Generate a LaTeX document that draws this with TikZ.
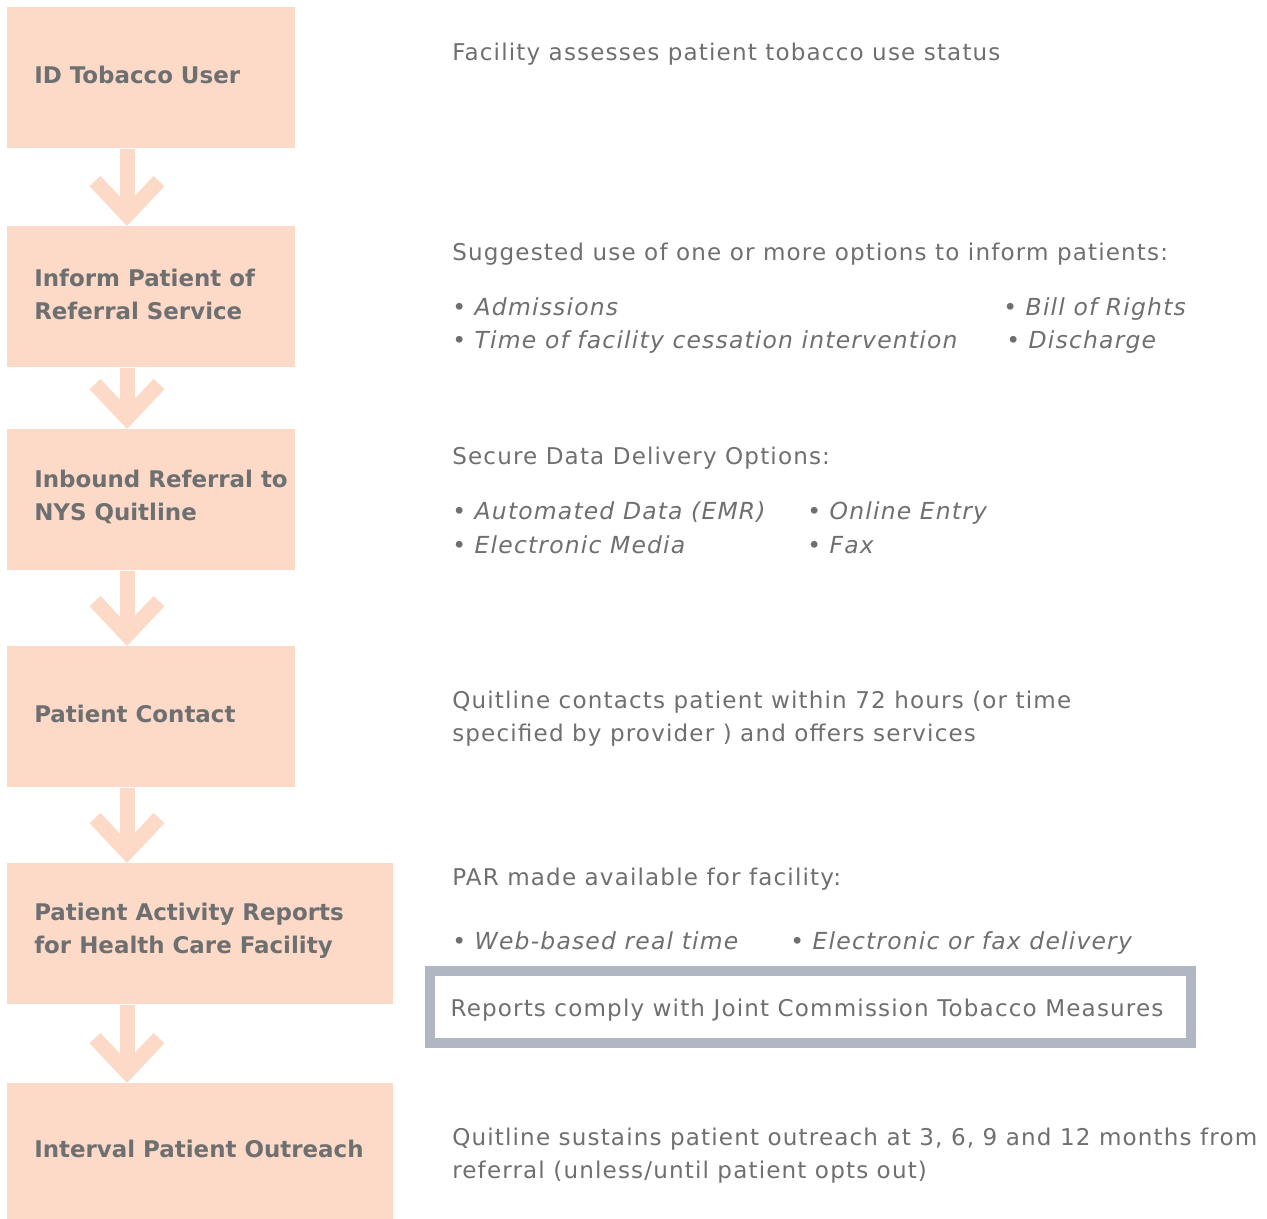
\documentclass[tikz,border=0pt]{standalone}
\usepackage{fontspec}
\setmainfont{DejaVu Sans}
\newfontfamily\notefont{DejaVu Sans}[LetterSpace=5]
\usetikzlibrary{positioning,arrows.meta}
\definecolor{peach}{HTML}{FCDAC7}
\definecolor{ink}{HTML}{6E6F71}
\definecolor{frame}{HTML}{B0B7C2}
\tikzset{
  stepbox/.style={fill=peach, draw=none, anchor=north west, inner sep=0pt,
    minimum width=216pt, minimum height=105.75pt},
  steplabel/.style={text=ink, font=\fontsize{17.2}{24.75}\selectfont\bfseries,
    align=left, inner sep=0pt, yshift=2pt},
  note/.style={text=ink, font=\notefont\fontsize{17.3}{24.75}\selectfont,
    anchor=base west, align=left, inner sep=0pt},
  item/.style={note, font=\notefont\fontsize{17.6}{24.75}\selectfont\itshape},
  framebox/.style={draw=frame, line width=7.5pt, inner sep=0pt,
    minimum width=570.75pt, minimum height=54pt},
  flow/.style={draw=peach, line width=11.25pt,
    -{Straight Barb[length=25.5pt, width=48pt]}}
}
\begin{document}
\begin{tikzpicture}[x=0.75pt, y=-0.75pt]
  \useasboundingbox (0,0) rectangle (1267,1219);

  % steps
  \node[stepbox] (id) at (7,7) {};
  \node[stepbox] (inform) at (7,226) {};
  \node[stepbox] (inbound) at (7,429) {};
  \node[stepbox] (contact) at (7,646) {};
  \node[stepbox, minimum width=289.5pt] (par) at (7,863) {};
  \node[stepbox, minimum width=289.5pt, minimum height=102pt] (outreach) at (7,1083) {};

  \node[steplabel, right=20.25pt of id.west] (idtext) {ID Tobacco User};
  \node[steplabel, right=20.25pt of inform.west] (informtext) {Inform Patient of\\Referral Service};
  \node[steplabel, right=20.25pt of inbound.west] (inboundtext) {Inbound Referral to\\NYS Quitline};
  \node[steplabel, right=20.25pt of contact.west] (contacttext) {Patient Contact};
  \node[steplabel, right=20.25pt of par.west] (partext) {Patient Activity Reports\\for Health Care Facility};
  \node[steplabel, right=20.25pt of outreach.west] (outreachtext) {Interval Patient Outreach};

  % arrows
  \draw[flow] ([xshift=90pt]id.south west) -- ([xshift=90pt]inform.north west);
  \draw[flow] ([xshift=90pt]inform.south west) -- ([xshift=90pt]inbound.north west);
  \draw[flow] ([xshift=90pt]inbound.south west) -- ([xshift=90pt]contact.north west);
  \draw[flow] ([xshift=90pt]contact.south west) -- ([xshift=90pt]par.north west);
  \draw[flow] ([xshift=90pt]par.south west) -- ([xshift=90pt]outreach.north west);

  % notes
  \node[note] (assess) at (452,61) {Facility assesses patient tobacco use status};

  \node[note] (suggest) at (452,261) {Suggested use of one or more options to inform patients:};
  \node[item] (admit) at (452,316) {• Admissions};
  \node[item] (rights) at (1003,316) {• Bill of Rights};
  \node[item] (cessation) at (452,349) {• Time of facility cessation intervention};
  \node[item] (discharge) at (1006,349) {• Discharge};

  \node[note] (secure) at (452,464) {Secure Data Delivery Options:};
  \node[item] (emr) at (452,519) {• Automated Data (EMR)};
  \node[item] (online) at (807,519) {• Online Entry};
  \node[item] (media) at (452,553) {• Electronic Media};
  \node[item] (fax) at (807,553) {• Fax};

  \node[note] (contacts) at (452,741) {Quitline contacts patient within 72 hours (or time\\specified by provider ) and offers services};

  \node[note] (available) at (452,885) {PAR made available for facility:};
  \node[item] (web) at (452,949) {• Web-based real time};
  \node[item] (delivery) at (790,949) {• Electronic or fax delivery};
  \node[framebox] (measures) at (810.5,1007) {};
  \node[note, anchor=west, right=19pt of measures.west, yshift=-2pt] (comply) {Reports comply with Joint Commission Tobacco Measures};

  \node[note] (sustain) at (452,1178) {Quitline sustains patient outreach at 3, 6, 9 and 12 months from\\referral (unless/until patient opts out)};
\end{tikzpicture}
\end{document}
